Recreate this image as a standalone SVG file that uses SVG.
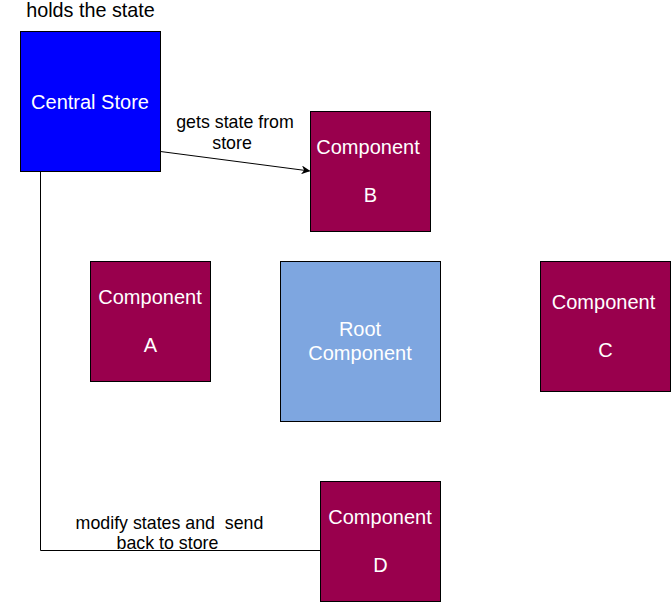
<svg xmlns="http://www.w3.org/2000/svg" width="671" height="602" viewBox="0 0 671 602">
<style>
text{font-family:"Liberation Sans",Arial,Helvetica,sans-serif;text-anchor:middle}
.n{font-size:20px;fill:#fff}
.l{font-size:17.8px;fill:#000}
.comp{fill:#99004d;stroke:#000;stroke-width:1}
.edge{fill:none;stroke:#000;stroke-width:1}
</style>
<defs>
<marker id="arr" viewBox="0 0 10 10" refX="9" refY="5" markerWidth="9" markerHeight="9" markerUnits="userSpaceOnUse" orient="auto">
<path d="M0,0 L10,5 L0,10 L3,5 Z" fill="#000"/>
</marker>
</defs>
<rect width="671" height="602" fill="#fff"/>
<g id="connectors">
<path class="edge" d="M160.5,151.5 L309.5,171" marker-end="url(#arr)"/>
<text class="l" x="235" y="127.5">gets state from</text>
<text class="l" x="232" y="148.5">store</text>
<path class="edge" d="M40.5,171.5 V550.5 H320.5"/>
<text class="l" x="169.5" y="528.5" xml:space="preserve">modify states and  send</text>
<text class="l" x="167.5" y="548.5">back to store</text>
</g>
<g id="central-store">
<text style="font-size:19.8px;fill:#000" x="90.5" y="17">holds the state</text>
<rect x="20.5" y="31.5" width="140" height="140" fill="#0000ff" stroke="#000"/>
<text class="n" x="90" y="108.5">Central Store</text>
</g>
<g id="component-b">
<rect class="comp" x="310.5" y="111.5" width="120" height="120"/>
<text class="n" x="368" y="154">Component</text>
<text class="n" x="370.5" y="202">B</text>
</g>
<g id="component-a">
<rect class="comp" x="90.5" y="261.5" width="120" height="120"/>
<text class="n" x="150" y="304">Component</text>
<text class="n" x="150.5" y="352">A</text>
</g>
<g id="root-component">
<rect x="280.5" y="261.5" width="160" height="160" fill="#7ea6e0" stroke="#000"/>
<text class="n" x="360" y="336">Root</text>
<text class="n" x="360" y="360">Component</text>
</g>
<g id="component-c">
<rect class="comp" x="540.5" y="261.5" width="130" height="130"/>
<text class="n" x="603.5" y="309">Component</text>
<text class="n" x="605.5" y="357">C</text>
</g>
<g id="component-d">
<rect class="comp" x="320.5" y="481.5" width="120" height="120"/>
<text class="n" x="380" y="524">Component</text>
<text class="n" x="380.5" y="572">D</text>
</g>
</svg>
